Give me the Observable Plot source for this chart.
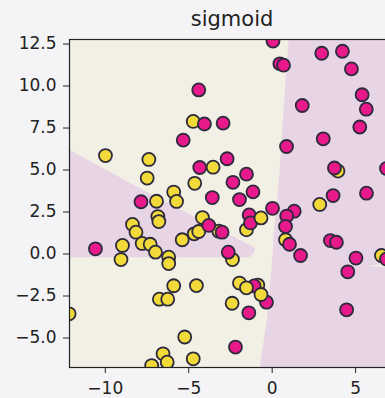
<!DOCTYPE html>
<html>
<head>
<meta charset="utf-8">
<script src="https://cdn.jsdelivr.net/npm/d3@7"></script>
<script src="https://cdn.jsdelivr.net/npm/@observablehq/plot@0.6"></script>
<style>
  html, body { margin: 0; padding: 0; overflow: hidden; background: #f4f4f6; }
  #chart { width: 400px; }
</style>
</head>
<body>
<div id="chart"></div>
<script>
// Class 1 (yellow) points [x, y], drawn beneath the magenta points
const yellowPts = [
  [-4.73, 7.89], [-9.99, 5.86], [-7.39, 5.63], [-7.49, 4.52], [-3.54, 5.17],
  [-4.64, 4.21], [-5.90, 3.69], [-5.73, 3.13], [-6.93, 3.14], [-6.85, 2.23],
  [-6.79, 1.93], [-8.37, 1.76], [-8.16, 1.30], [-7.79, 0.63], [-7.31, 0.58],
  [-6.99, 0.11], [-8.97, 0.51], [-9.06, -0.33], [-6.20, -0.19], [-6.20, -0.57],
  [-5.39, 0.85], [-4.67, 1.20], [-4.40, 1.34], [-4.18, 2.17], [-3.20, 1.36],
  [-2.38, -0.33], [-1.54, 1.44], [0.80, 0.85], [2.85, 2.95],
  [3.94, 4.94], [6.55, -0.09], [-5.90, -1.89], [-4.54, -1.88], [-6.76, -2.69],
  [-6.26, -2.69], [-12.17, -3.56], [-1.96, -1.73], [-0.86, -1.85],
  [-2.40, -2.93], [-5.24, -4.94], [-6.54, -5.94], [-6.29, -6.44],
  [-7.22, -6.64], [-4.73, -6.24]
];
// Class 1 (yellow) points that sit on top of their magenta neighbours
const yellowFront = [[-0.67, 2.15], [-1.54, -2.01], [-0.67, -2.41]];
// Class 0 (magenta) points [x, y]
const magentaPts = [
  [0.05, 12.68], [0.46, 11.32], [0.68, 11.24], [2.97, 11.95], [4.21, 12.07],
  [4.75, 11.02], [5.39, 9.48], [5.64, 8.62], [1.80, 8.84], [5.25, 7.56],
  [-4.40, 9.77], [-4.06, 7.74], [-2.94, 7.79], [-5.33, 6.78], [0.86, 6.40],
  [3.06, 6.86], [3.73, 5.12], [6.85, 5.09], [5.65, 3.62], [3.65, 3.48],
  [-4.34, 5.15], [-2.70, 5.67], [-1.54, 4.75], [-2.35, 4.27], [-1.15, 3.70],
  [-1.96, 3.24], [-3.59, 3.36], [-7.86, 3.11], [0.02, 2.72],
  [1.32, 2.55], [0.87, 2.26], [0.80, 1.64], [-1.38, 2.33], [-1.30, 1.85],
  [-3.80, 1.70], [-3.00, 1.30], [-10.59, 0.31], [-2.63, 0.11], [1.04, 0.58],
  [1.70, -0.09], [3.49, 0.80], [3.85, 0.70], [5.02, -0.24], [4.53, -1.06],
  [6.85, -0.30], [-1.08, -1.90], [-0.34, -2.87], [-1.40, -3.50], [4.46, -3.32],
  [-2.20, -5.54]
];
// Decision regions (predicted class 0, pink), polygons in data units
const pinkRight = [
  [1.02, 13.2], [0.99, 12.77], [0.80, 10.33], [0.60, 7.35], [0.40, 4.38],
  [0.26, 2.77], [0.10, 1.40], [0.00, -0.39], [-0.30, -3.78], [-0.75, -6.76],
  [-0.78, -7.2], [8, -7.2], [8, 13.2]
];
const pinkLeft = [
  [-13, 6.66], [-12.08, 6.16], [-7.29, 3.58], [-1.0, 0.36], [-1.1, 0.05],
  [-1.35, -0.19], [-13, -0.19]
];
const creamSliver = [[5.7, -0.72], [8, -0.42], [8, -0.86]];

const xTicks = [-10, -5, 0, 5];
const yTicks = [-5, -2.5, 0, 2.5, 5, 7.5, 10, 12.5];
const title = "sigmoid";

const cream = "#f2f0e4";
const pink = "#e7d4e5";
const yellow = "#f2da3a";
const magenta = "#e8198b";
const edge = "#2c2a3c";

const dotOpts = { x: d => d[0], y: d => d[1], r: 6.5, stroke: edge, strokeWidth: 1.8, clip: true };

const chart = Plot.plot({
  width: 400,
  height: 398,
  marginLeft: 69,
  marginRight: 6,
  marginTop: 39,
  marginBottom: 31,
  style: { background: "transparent", fontFamily: "DejaVu Sans", fontSize: "17px", color: "#222" },
  x: { domain: [-12.145, 7.33], label: null },
  y: { domain: [-6.756, 12.77], label: null },
  marks: [
    Plot.frame({ fill: cream }),
    Plot.line(pinkRight, { x: d => d[0], y: d => d[1], fill: pink, stroke: "none", clip: true }),
    Plot.line(pinkLeft, { x: d => d[0], y: d => d[1], fill: pink, stroke: "none", clip: true }),
    Plot.line(creamSliver, { x: d => d[0], y: d => d[1], fill: cream, stroke: "none", clip: true }),
    Plot.dot(yellowPts, { ...dotOpts, fill: yellow }),
    Plot.dot(magentaPts, { ...dotOpts, fill: magenta }),
    Plot.dot(yellowFront, { ...dotOpts, fill: yellow }),
    Plot.frame({ stroke: "#222", strokeWidth: 1.2 }),
    Plot.axisX({ ticks: xTicks, tickFormat: d3.format("d"), tickSize: 6, tickPadding: 8, label: null }),
    Plot.axisY({ ticks: yTicks, tickFormat: d3.format(".1f"), tickSize: 6, tickPadding: 7, label: null }),
    Plot.text([title], { frameAnchor: "top", dy: -14, lineAnchor: "bottom", fontSize: 21, fill: "#222", text: d => d })
  ]
});
document.getElementById("chart").appendChild(chart);
</script>
</body>
</html>
